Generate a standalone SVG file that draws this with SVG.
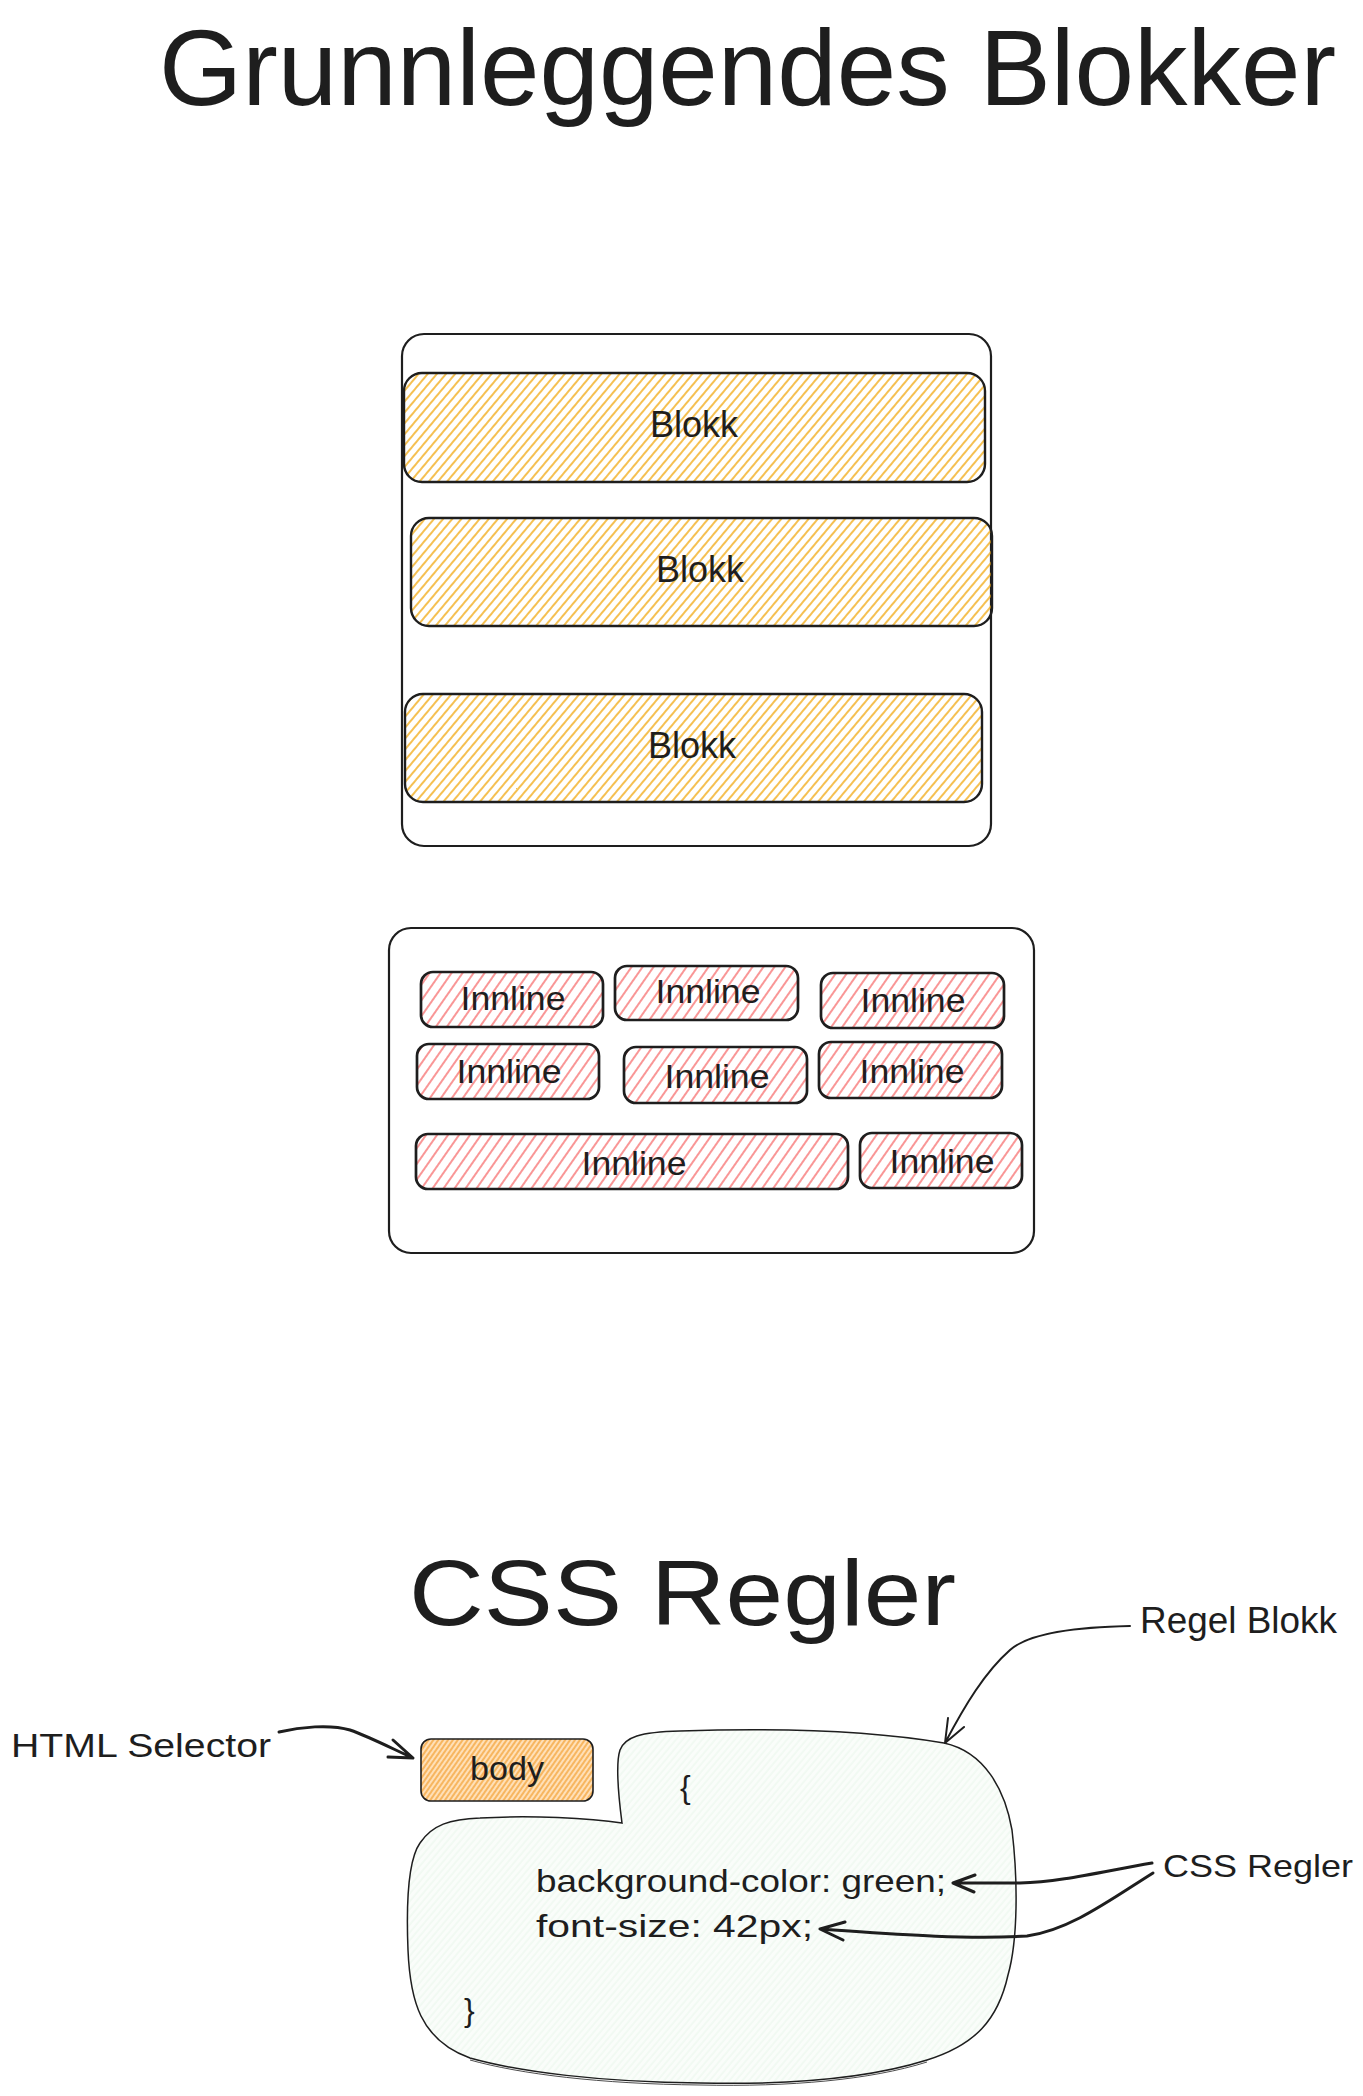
<svg xmlns="http://www.w3.org/2000/svg" width="1363" height="2096" viewBox="0 0 1363 2096">
<defs>
<pattern id="hY" patternUnits="userSpaceOnUse" width="7" height="7" patternTransform="rotate(40)">
<line x1="1" y1="0" x2="1" y2="7" stroke="#f2ab18" stroke-width="1.5"/>
</pattern>
<pattern id="hP" patternUnits="userSpaceOnUse" width="9" height="9" patternTransform="rotate(35)">
<line x1="1" y1="0" x2="1" y2="9" stroke="#f87c7c" stroke-width="1.6"/>
</pattern>
<pattern id="hO" patternUnits="userSpaceOnUse" width="4" height="4" patternTransform="rotate(35)">
<rect width="4" height="4" fill="#ffe0b8"/>
<line x1="1" y1="0" x2="1" y2="4" stroke="#f29a25" stroke-width="1.2"/>
</pattern>
<pattern id="hG" patternUnits="userSpaceOnUse" width="5" height="5" patternTransform="rotate(40)">
<rect width="5" height="5" fill="#fafdfa"/>
<line x1="1" y1="0" x2="1" y2="5" stroke="#e4f4e7" stroke-width="0.8"/>
</pattern>
</defs>
<style>
text{font-family:"Liberation Sans",Arial,sans-serif;fill:#1e1e1e}
.c{text-anchor:middle}
.blk{fill:url(#hY);stroke:#1e1e1e;stroke-width:2.4}
.inl{fill:url(#hP);stroke:#1e1e1e;stroke-width:2.7}
.cont{fill:none;stroke:#1e1e1e;stroke-width:2.2}
.ar{fill:none;stroke:#1e1e1e;stroke-linecap:round;stroke-linejoin:round}
</style>
<rect width="1363" height="2096" fill="#ffffff"/>

<g id="title">
<text x="159" y="105" font-size="108" textLength="1177" lengthAdjust="spacingAndGlyphs">Grunnleggendes Blokker</text>
</g>

<g id="blokk-container">
<rect class="cont" x="402" y="334" width="589" height="512" rx="22"/>
</g>
<g id="blokk1">
<rect class="blk" x="404" y="373" width="581" height="109" rx="18"/>
<text class="c" x="694" y="437" font-size="37" textLength="88" lengthAdjust="spacingAndGlyphs">Blokk</text>
</g>
<g id="blokk2">
<rect class="blk" x="411" y="518" width="581" height="108" rx="18"/>
<text class="c" x="700" y="582" font-size="37" textLength="88" lengthAdjust="spacingAndGlyphs">Blokk</text>
</g>
<g id="blokk3">
<rect class="blk" x="405" y="694" width="577" height="108" rx="18"/>
<text class="c" x="692" y="758" font-size="37" textLength="88" lengthAdjust="spacingAndGlyphs">Blokk</text>
</g>

<g id="inline-container">
<rect class="cont" x="389" y="928" width="645" height="325" rx="22"/>
</g>
<g id="inline1">
<rect class="inl" x="421" y="972" width="182" height="55" rx="12"/>
<text class="c" x="513" y="1010" font-size="33" textLength="105" lengthAdjust="spacingAndGlyphs">Innline</text>
</g>
<g id="inline2">
<rect class="inl" x="615" y="966" width="183" height="54" rx="12"/>
<text class="c" x="708" y="1003" font-size="33" textLength="105" lengthAdjust="spacingAndGlyphs">Innline</text>
</g>
<g id="inline3">
<rect class="inl" x="821" y="973" width="183" height="55" rx="12"/>
<text class="c" x="913" y="1012" font-size="33" textLength="105" lengthAdjust="spacingAndGlyphs">Innline</text>
</g>
<g id="inline4">
<rect class="inl" x="417" y="1044" width="182" height="55" rx="12"/>
<text class="c" x="509" y="1083" font-size="33" textLength="105" lengthAdjust="spacingAndGlyphs">Innline</text>
</g>
<g id="inline5">
<rect class="inl" x="624" y="1047" width="183" height="56" rx="12"/>
<text class="c" x="717" y="1088" font-size="33" textLength="105" lengthAdjust="spacingAndGlyphs">Innline</text>
</g>
<g id="inline6">
<rect class="inl" x="819" y="1042" width="183" height="56" rx="12"/>
<text class="c" x="912" y="1083" font-size="33" textLength="105" lengthAdjust="spacingAndGlyphs">Innline</text>
</g>
<g id="inline7">
<rect class="inl" x="416" y="1134" width="432" height="55" rx="12"/>
<text class="c" x="634" y="1175" font-size="33" textLength="105" lengthAdjust="spacingAndGlyphs">Innline</text>
</g>
<g id="inline8">
<rect class="inl" x="860" y="1133" width="162" height="55" rx="12"/>
<text class="c" x="942" y="1173" font-size="33" textLength="105" lengthAdjust="spacingAndGlyphs">Innline</text>
</g>

<g id="css-title">
<text x="409" y="1625" font-size="92" textLength="547" lengthAdjust="spacingAndGlyphs">CSS Regler</text>
</g>

<g id="regel-blokk">
<path d="M 622 1823 C 619 1800, 615 1765, 620 1750 C 625 1737, 640 1732, 680 1731 C 740 1729, 850 1727, 944 1743 C 985 1752, 1005 1790, 1012 1830 C 1018 1880, 1018 1940, 1008 1975 C 998 2020, 975 2045, 927 2060 C 870 2078, 790 2085, 700 2083 C 600 2082, 520 2072, 470 2058 C 420 2040, 410 2000, 408 1950 C 406 1900, 408 1860, 420 1843 C 432 1825, 450 1819, 480 1818 C 530 1815, 590 1818, 622 1823 Z" fill="url(#hG)" stroke="#1e1e1e" stroke-width="1.5"/>
<path d="M 927 2062 C 870 2080, 790 2087, 700 2085 C 600 2084, 520 2074, 470 2060" fill="none" stroke="#1e1e1e" stroke-width="0.8"/>
<text x="680" y="1798" font-size="32">{</text>
<text x="536" y="1892" font-size="32" textLength="410" lengthAdjust="spacingAndGlyphs">background-color: green;</text>
<text x="536" y="1937" font-size="32" textLength="277" lengthAdjust="spacingAndGlyphs">font-size: 42px;</text>
<text x="464" y="2021" font-size="32">}</text>
</g>

<g id="body-selector">
<rect x="421" y="1739" width="172" height="62" rx="10" fill="url(#hO)" stroke="#1e1e1e" stroke-width="1.6"/>
<text class="c" x="507" y="1780" font-size="34" textLength="74" lengthAdjust="spacingAndGlyphs">body</text>
</g>

<g id="label-html">
<text x="11" y="1757" font-size="34" textLength="260" lengthAdjust="spacingAndGlyphs">HTML Selector</text>
</g>
<g id="label-regel">
<text x="1140" y="1633" font-size="36" textLength="197" lengthAdjust="spacingAndGlyphs">Regel Blokk</text>
</g>
<g id="label-css">
<text x="1163" y="1877" font-size="32" textLength="190" lengthAdjust="spacingAndGlyphs">CSS Regler</text>
</g>

<g id="connectors">
<path class="ar" stroke-width="3" d="M 279 1732 C 300 1727, 330 1724, 350 1730 C 370 1737, 395 1750, 413 1758 M 393 1740 L 413 1758 L 388 1757"/>
<path class="ar" stroke-width="2" d="M 1130 1626 C 1080 1627, 1030 1632, 1010 1650 C 985 1672, 965 1705, 945 1743 M 948 1718 L 945 1743 L 964 1727"/>
<path class="ar" stroke-width="3" d="M 1152 1863 C 1100 1872, 1060 1882, 1020 1883 L 953 1883 M 975 1875 L 953 1883 L 974 1892"/>
<path class="ar" stroke-width="3" d="M 1153 1873 C 1110 1900, 1070 1930, 1027 1936 C 960 1940, 880 1933, 820 1929 M 845 1922 L 820 1929 L 843 1940"/>
</g>
</svg>
